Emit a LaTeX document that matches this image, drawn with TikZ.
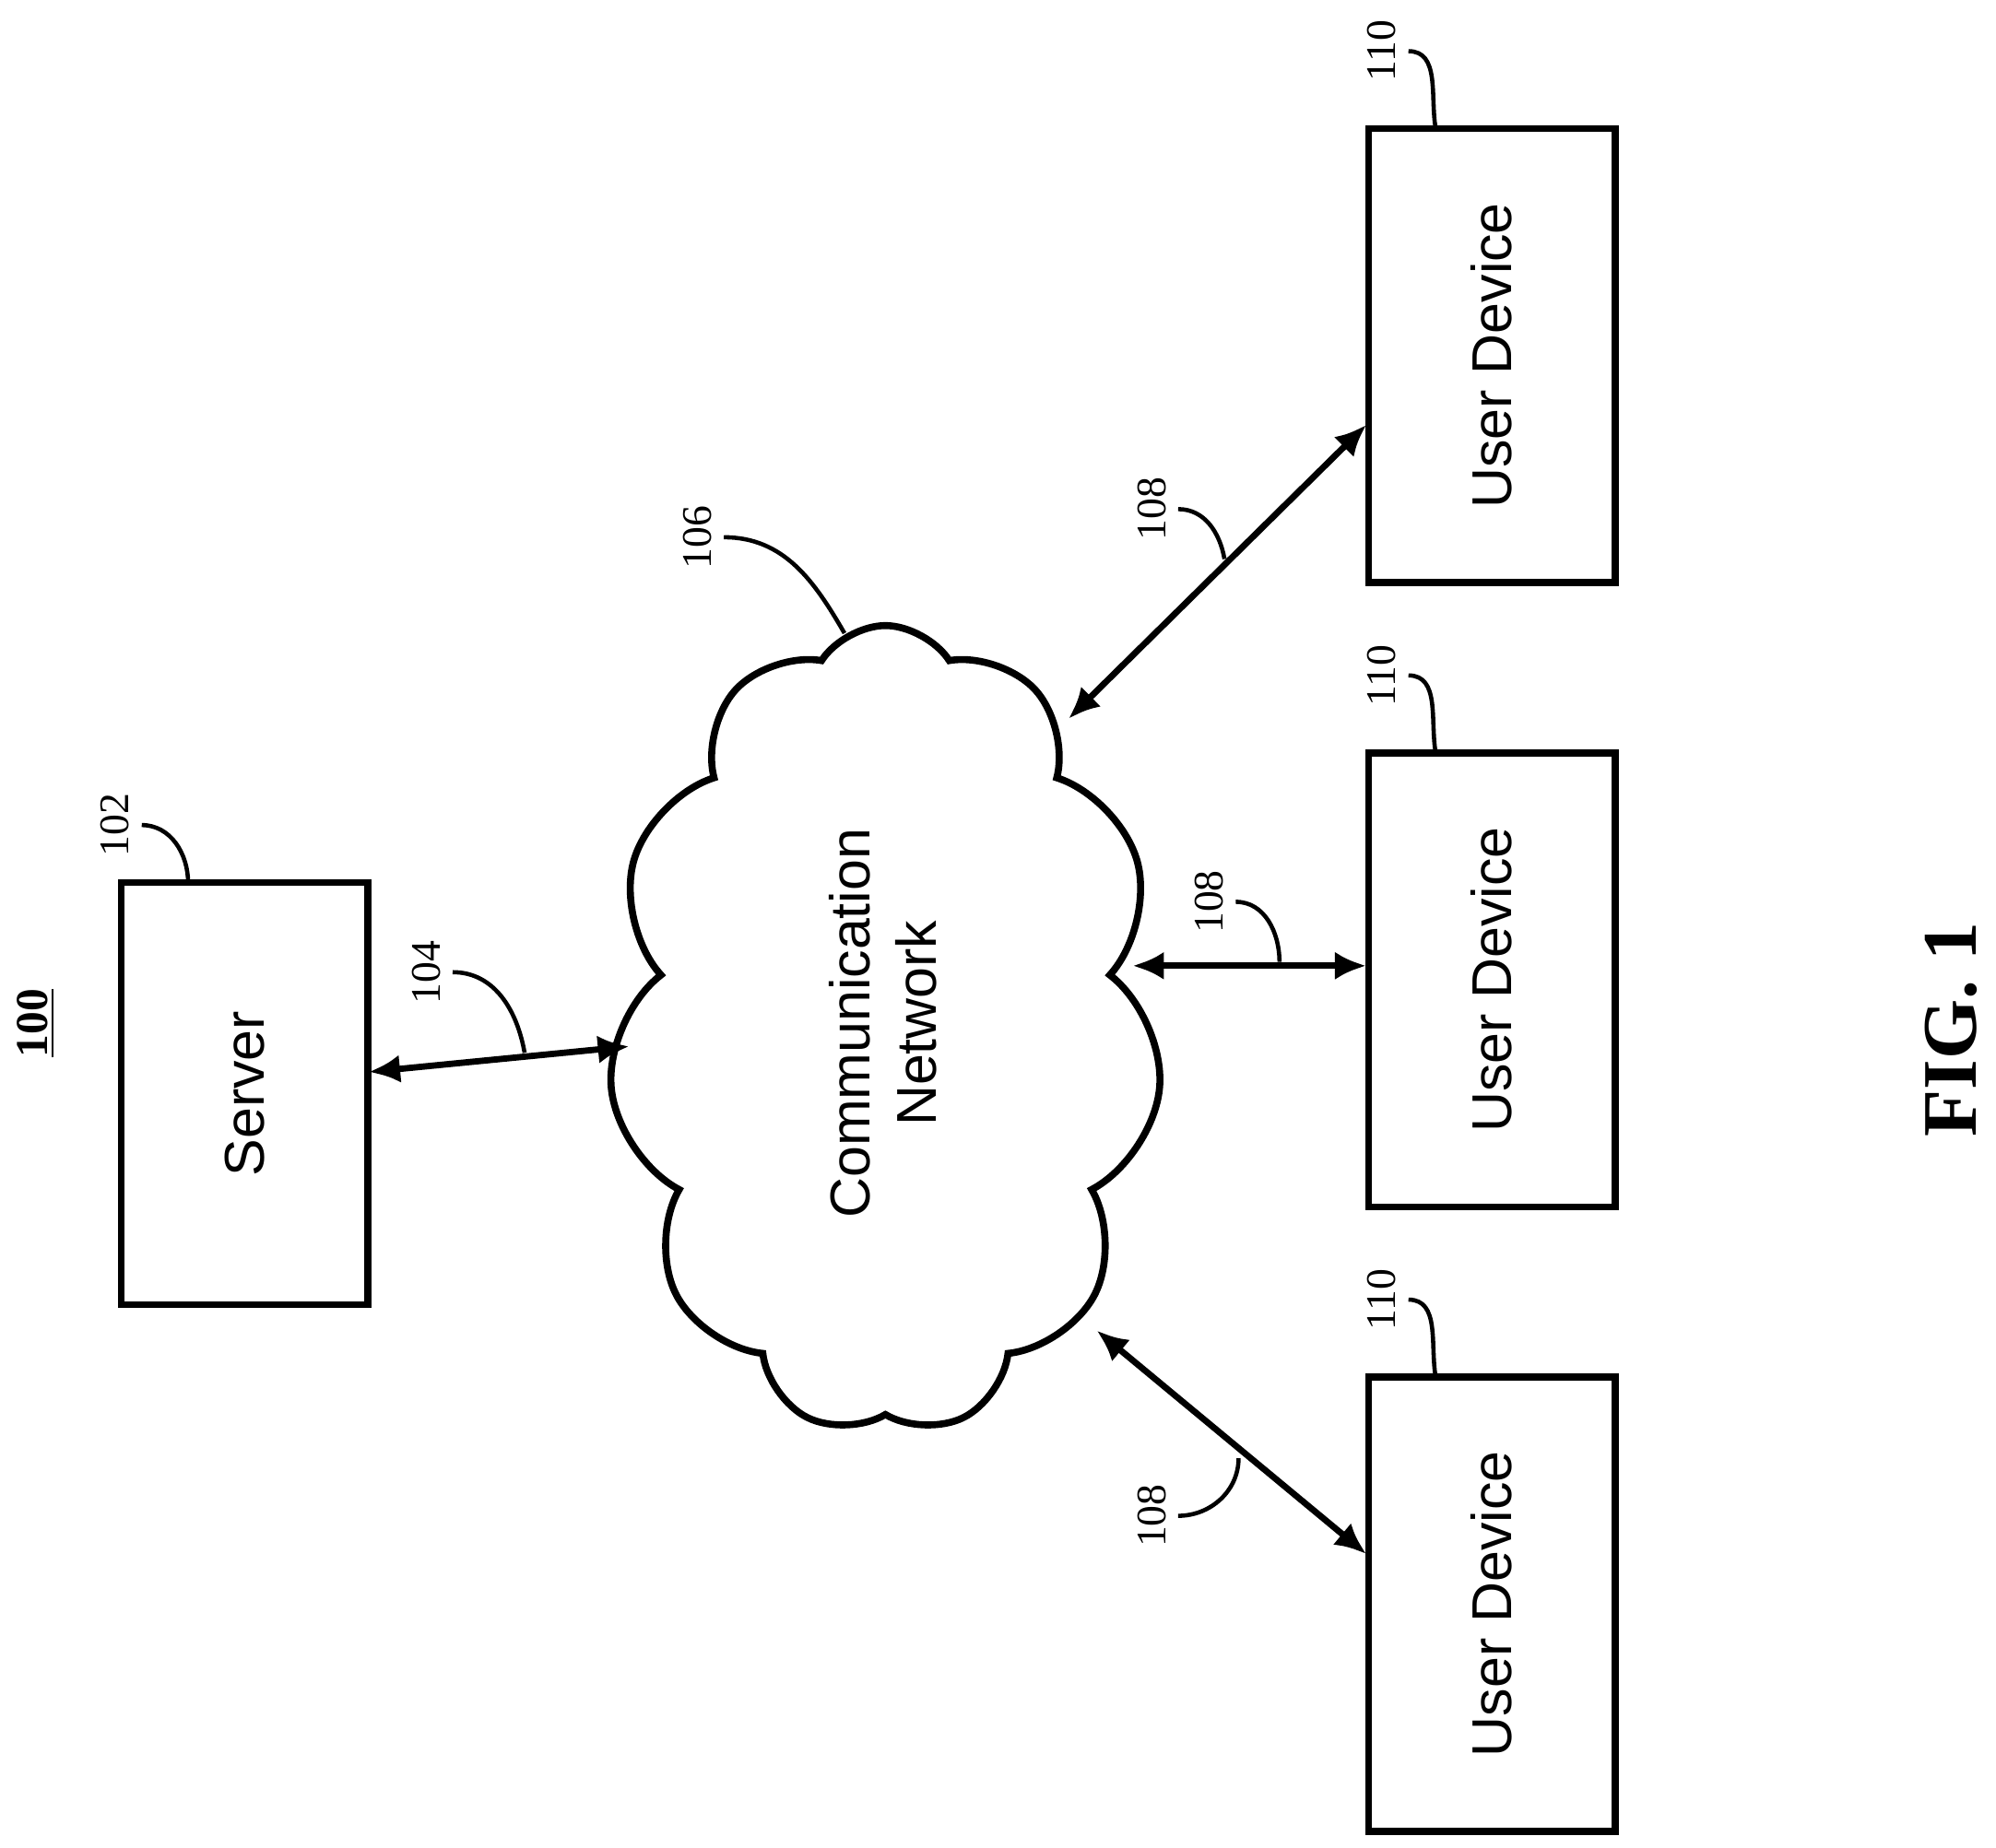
\documentclass[tikz,border=0pt]{standalone}
\usepackage{fontspec}
\setmainfont{Liberation Serif}
\setsansfont{Liberation Sans}
\usetikzlibrary{positioning,shapes.symbols,arrows.meta}

\tikzset{
  box/.style={draw, line width=2pt, minimum width=2.47cm, minimum height=4.55cm},
  boxtext/.style={font=\sffamily\fontsize{16}{19}\selectfont, rotate=90, align=center},
  refnum/.style={font=\fontsize{12}{14}\selectfont, rotate=90},
  leader/.style={line width=1.2pt},
  link/.style={{Latex[length=9pt,width=8pt]}-{Latex[length=9pt,width=8pt]}, line width=1.8pt}
}

\begin{document}
\begin{tikzpicture}[x=0.01282cm, y=-0.01282cm]
  \useasboundingbox (0,0) rectangle (1560,1444);

  % Figure number
  \node[rotate=90, font=\bfseries\fontsize{13}{15}\selectfont] (fignum) at (28,800) {\underline{100}};

  % Server
  \node[box, minimum height=4.23cm] (server) at (191,855) {};
  \node[boxtext] (servertext) at (server) {Server};
  \node[refnum] (n102) at (90,645) {102};
  \coordinate (s102) at (147,690);
  \draw[leader] (n102.south) to[out=0, in=90] (s102);

  % Cloud
  \node[cloud, draw, line width=2pt, cloud puffs=11, cloud puff arc=115, aspect=0.68,
        minimum width=5.55cm, minimum height=8.1cm] (cloud) at (692,805) {};
  \node[boxtext] (cloudtext) at (690,800) {Communication\\Network};
  \node[refnum] (n106) at (545,420) {106};
  \coordinate (c106) at (660,495);
  \draw[leader] (n106.south) to[out=0, in=120] (c106);

  % User devices
  \foreach \name/\y in {top/278, mid/766, bot/1254} {
    \node[box] (\name) at (1166,\y) {};
    \node[boxtext] at (\name) {User Device};
    \node[refnum] (n110\name) at (1080,\y-238) {110};
    \coordinate (d\name) at (1122,\y-178);
    \draw[leader] (n110\name.south) to[out=0, in=100] (d\name);
  }

  % Connectors
  \coordinate (cs) at (492,818);
  \coordinate (ctop) at (835,562);
  \coordinate (cmid) at (885,755);
  \coordinate (cbot) at (857,1040);
  \coordinate (utop) at (1068,332);
  \coordinate (umid) at (1068,755);
  \coordinate (ubot) at (1068,1215);
  \coordinate (sv) at (288,838);
  \draw[link] (sv) -- (cs);
  \draw[link] (ctop) -- (utop);
  \draw[link] (cmid) -- (umid);
  \draw[link] (cbot) -- (ubot);

  % Link labels
  \node[refnum] (n104) at (333,760) {104};
  \coordinate (l104) at (410,823);
  \draw[leader] (n104.south) to[out=0, in=100] (l104);
  \node[refnum] (n108a) at (900,398) {108};
  \coordinate (l108a) at (957,437);
  \draw[leader] (n108a.south) to[out=0, in=100] (l108a);
  \node[refnum] (n108b) at (945,705) {108};
  \coordinate (l108b) at (1000,752);
  \draw[leader] (n108b.south) to[out=0, in=90] (l108b);
  \node[refnum] (n108c) at (900,1185) {108};
  \coordinate (l108c) at (968,1140);
  \draw[leader] (n108c.south) to[out=0, in=-90] (l108c);

  \node[rotate=90, font=\bfseries\fontsize{22}{26}\selectfont] (fig) at (1525,805) {FIG. 1};
\end{tikzpicture}
\end{document}
